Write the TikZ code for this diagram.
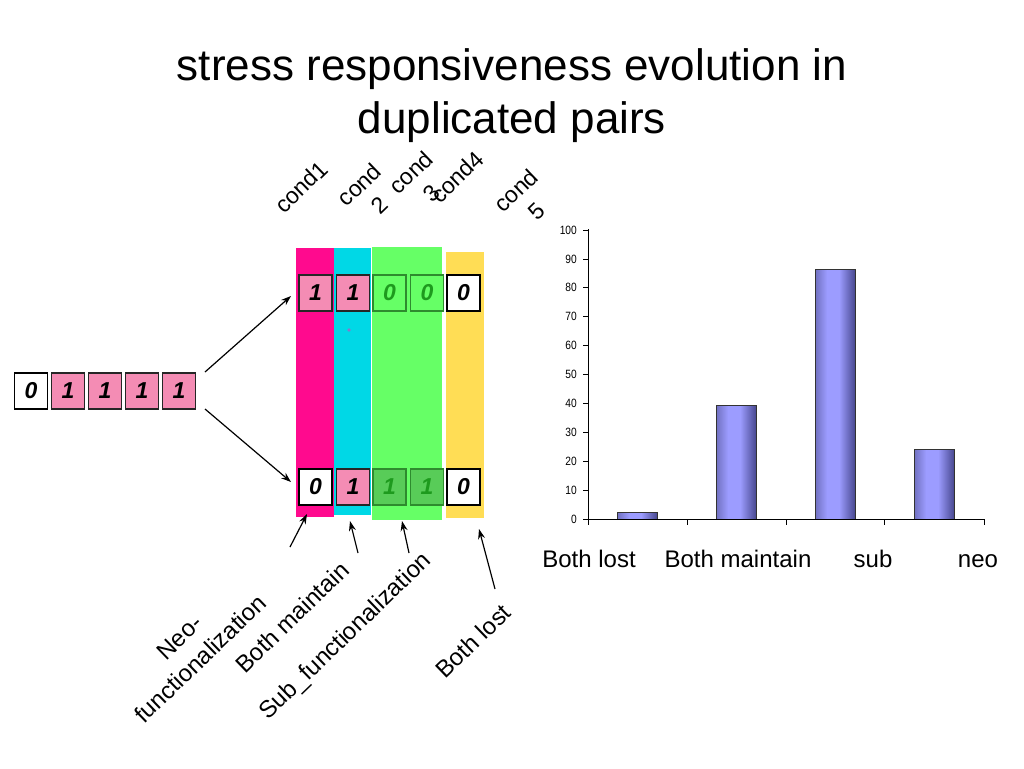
\documentclass[tikz,border=0pt]{standalone}
\usepackage{fontspec}
\setmainfont{Liberation Sans}
\newfontfamily\narrowfont[FakeStretch=0.85]{Liberation Sans}
\usetikzlibrary{arrows.meta}
\definecolor{bandpink}{HTML}{FF0A8E}
\definecolor{bandcyan}{HTML}{00D8E6}
\definecolor{bandgreen}{HTML}{66FF66}
\definecolor{bandyellow}{HTML}{FFDD55}
\definecolor{boxpink}{HTML}{F48CB4}
\definecolor{boxgreen}{HTML}{58CC58}
\definecolor{greenedge}{HTML}{2E8B2E}
\definecolor{greentext}{HTML}{1E9A1E}
\definecolor{barmid}{HTML}{9C9CFF}
\definecolor{barleft}{HTML}{7070C0}
\definecolor{barright}{HTML}{484890}
\definecolor{dotcol}{HTML}{8877CC}
\pgfdeclarehorizontalshading{barshade}{100bp}{color(0bp)=(barleft); color(25bp)=(barleft); color(40bp)=(barmid); color(55bp)=(barmid); color(75bp)=(barright); color(100bp)=(barright)}
\tikzset{
  digit/.style={minimum width=33pt,minimum height=36pt,inner sep=0pt,line width=1.4pt,
    font=\fontsize{23}{26}\selectfont\bfseries\itshape},
  whitebox/.style={digit,draw=black,fill=white,text=black},
  pinkbox/.style={digit,draw=black!85,fill=boxpink,text=black},
  greenbox/.style={digit,draw=greenedge,fill=bandgreen,text=greentext},
  dgreenbox/.style={digit,draw=greenedge,fill=boxgreen,text=greentext},
  arr/.style={-{Stealth[length=10pt,width=7pt]},line width=1.2pt},
  rotlabel/.style={rotate=44,align=center,inner sep=0pt,font=\fontsize{24}{30}\selectfont},
  condlabel/.style={rotate=44,align=center,inner sep=0pt,font=\fontsize{23}{29}\selectfont},
  ticklab/.style={anchor=east,inner sep=0pt,font=\narrowfont\fontsize{12}{14}\selectfont},
  catlab/.style={anchor=base,inner sep=0pt,font=\fontsize{24}{28}\selectfont},
  bar/.style={shading=barshade,draw=black!80,line width=0.6pt}
}
\begin{document}
\begin{tikzpicture}[x=1pt,y=-1pt]
\useasboundingbox (0,0) rectangle (1024,768);
% title
\node[align=center,font=\fontsize{44}{53}\selectfont,anchor=base] (title) at (512,133)
  {stress responsiveness evolution in\\duplicated pairs};
% colour bands
\fill[bandpink] (296,248) rectangle (334,517);
\fill[bandcyan] (334,248) rectangle (371,515);
\fill[bandgreen] (372,247) rectangle (442,520);
\fill[bandyellow] (446,252) rectangle (484,518);
\fill[dotcol] (349,330) circle (1.8);
% left row
\node[whitebox] (l1) at (31,391) {0};
\node[pinkbox] (l2) at (68,391) {1};
\node[pinkbox] (l3) at (105,391) {1};
\node[pinkbox] (l4) at (142,391) {1};
\node[pinkbox] (l5) at (179,391) {1};
% top row
\node[pinkbox] (t1) at (315.5,293) {1};
\node[pinkbox] (t2) at (353,293) {1};
\node[greenbox] (t3) at (389.5,293) {0};
\node[greenbox] (t4) at (427,293) {0};
\node[whitebox] (t5) at (463.5,293) {0};
% bottom row
\node[whitebox] (b1) at (315.5,487) {0};
\node[pinkbox] (b2) at (353,487) {1};
\node[dgreenbox] (b3) at (389.5,487) {1};
\node[dgreenbox] (b4) at (427,487) {1};
\node[whitebox] (b5) at (463.5,487) {0};
% split arrows
\coordinate (s1) at (205,372);
\coordinate (s2) at (205,409);
\coordinate (e1) at (291,296);
\coordinate (e2) at (291,482);
\draw[arr] (s1) -- (e1);
\draw[arr] (s2) -- (e2);
% cond labels
\node[condlabel] (c1) at (301,187) {cond1};
\node[condlabel] (c2) at (369,195) {cond\\2};
\node[condlabel] (c3) at (421,183) {cond\\3};
\node[condlabel] (c4) at (457,177) {cond4};
\node[condlabel] (c5) at (526,201) {cond\\5};
% bottom labels
\node[rotlabel] (neo) at (190,648) {Neo-\\functionalization};
\node[rotlabel] (bm) at (292,617) {Both maintain};
\node[rotlabel] (sf) at (346,637) {Sub\_functionalization};
\node[rotlabel] (bl) at (473,641) {Both lost};
\coordinate (n0) at (290,547); \coordinate (n1) at (307,514);
\coordinate (m0) at (358,553); \coordinate (m1) at (350,521);
\coordinate (u0) at (409,553); \coordinate (u1) at (402,521);
\coordinate (o0) at (495,589); \coordinate (o1) at (479,529);
\draw[arr] (n0) -- (n1);
\draw[arr] (m0) -- (m1);
\draw[arr] (u0) -- (u1);
\draw[arr] (o0) -- (o1);
% chart
\foreach \v in {0,10,...,100}{
  \draw[line width=0.7pt] (583,{519-2.89*\v}) -- (588,{519-2.89*\v});
  \node[ticklab] at (577,{519-2.89*\v}) {\v};
}
\foreach \x in {588,687,786,884,984}{
  \draw[line width=0.7pt] (\x,519) -- (\x,525);
}
\shade[bar] (617,512.6) rectangle (657,519);
\shade[bar] (716,405) rectangle (756,519);
\shade[bar] (815,269) rectangle (855,519);
\shade[bar] (914,449) rectangle (954,519);
\draw[line width=0.8pt] (588,229) -- (588,519) -- (984,519);
\node[catlab] (cl1) at (589,567) {Both lost};
\node[catlab] (cl2) at (738,567) {Both maintain};
\node[catlab] (cl3) at (873,567) {sub};
\node[catlab] (cl4) at (978,567) {neo};
\end{tikzpicture}
\end{document}
